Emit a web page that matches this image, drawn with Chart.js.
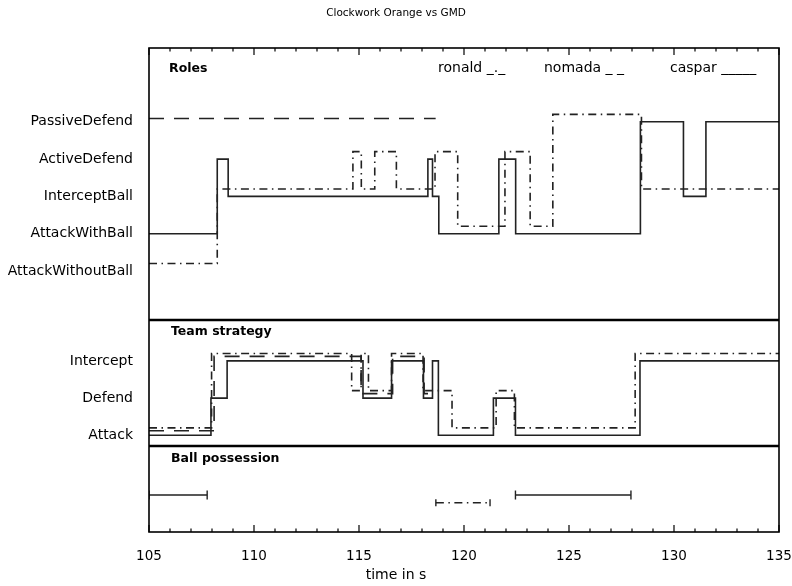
<!DOCTYPE html>
<html>
<head>
<meta charset="utf-8">
<script src="https://cdn.jsdelivr.net/npm/chart.js@4.4.1/dist/chart.umd.min.js"></script>
<style>
  html, body { margin: 0; padding: 0; background: #fff; }
</style>
</head>
<body>
<canvas id="chart" width="792" height="586"></canvas>
<script>
// categories
const roleNames = ['AttackWithoutBall', 'AttackWithBall', 'InterceptBall', 'ActiveDefend', 'PassiveDefend'];
const strategyNames = ['Attack', 'Defend', 'Intercept'];
const timeTicks = [105, 110, 115, 120, 125, 130, 135];
const panelTitles = ['Roles', 'Team strategy', 'Ball possession'];
const legendLabels = ['ronald _._', 'nomada _ _', 'caspar _____'];

// roles (time where the state starts, last entry = end of record)
const casparRoleTimes = [105, 108.25, 108.77, 118.28, 118.5, 118.8, 121.66, 122.46, 128.4, 130.45, 131.52, 135];
const casparRoles = ['AttackWithBall', 'ActiveDefend', 'InterceptBall', 'ActiveDefend', 'InterceptBall', 'AttackWithBall',
  'ActiveDefend', 'AttackWithBall', 'PassiveDefend', 'InterceptBall', 'PassiveDefend', 'PassiveDefend'];
const ronaldRoleTimes = [105, 108.25, 114.71, 115.11, 115.75, 116.78, 118.62, 119.7, 121.95, 123.15, 124.23, 128.45, 135];
const ronaldRoles = ['AttackWithoutBall', 'InterceptBall', 'ActiveDefend', 'InterceptBall', 'ActiveDefend', 'InterceptBall',
  'ActiveDefend', 'AttackWithBall', 'ActiveDefend', 'AttackWithBall', 'PassiveDefend', 'InterceptBall', 'InterceptBall'];
const nomadaRoleTimes = [105, 118.65];
const nomadaRoles = ['PassiveDefend', 'PassiveDefend'];

// team strategy
const casparStrategyTimes = [105, 107.95, 108.72, 115.19, 116.55, 118.07, 118.5, 118.78, 121.4, 122.45, 128.38, 135];
const casparStrategy = ['Attack', 'Defend', 'Intercept', 'Defend', 'Intercept', 'Defend', 'Intercept', 'Attack',
  'Defend', 'Attack', 'Intercept', 'Intercept'];
const ronaldStrategyTimes = [105, 107.98, 114.65, 115.1, 115.45, 116.55, 118.05, 119.43, 121.53, 122.4, 128.15, 135];
const ronaldStrategy = ['Attack', 'Intercept', 'Defend', 'Intercept', 'Defend', 'Intercept', 'Defend', 'Attack',
  'Defend', 'Attack', 'Intercept', 'Intercept'];
const nomadaStrategyTimes = [105, 108.1, 115.1, 116.6, 118.1, 118.65];
const nomadaStrategy = ['Attack', 'Intercept', 'Defend', 'Intercept', 'Defend', 'Defend'];

// ball possession intervals [start, end]
const casparBall = [[105, 107.77], [122.45, 127.95]];
const ronaldBall = [[118.66, 121.24]];

// small vertical shift per player so overlapping steps stay visible
const roleShift = { ronald: 0.2, nomada: 0.09, caspar: 0 };
const strategyShift = { ronald: 0.2, nomada: 0.12, caspar: 0 };
const ballLevel = { ronald: 0.34, caspar: 0.43 };
const dashes = { ronald: [8, 4.5, 1.5, 4.5], nomada: [15, 10], caspar: [] };

const FONT = 'DejaVu Sans';
Chart.defaults.font.family = FONT;
Chart.defaults.color = '#000';

function steps(times, states, names, shift) {
  return times.map((t, i) => ({ x: t, y: names.indexOf(states[i]) + shift }));
}

function intervals(list, level) {
  const pts = [];
  list.forEach((iv, i) => {
    if (i > 0) pts.push({ x: (list[i - 1][1] + iv[0]) / 2, y: null });
    pts.push({ x: iv[0], y: level }, { x: iv[1], y: level });
  });
  return pts;
}

function stepSet(player, data, axis) {
  return {
    label: player,
    data: data,
    yAxisID: axis,
    stepped: 'before',
    borderColor: '#222',
    borderWidth: 1.6,
    borderDash: dashes[player],
    pointRadius: 0,
    fill: false
  };
}

function ballSet(player, data, cap) {
  return {
    label: player + ' ball',
    data: data,
    yAxisID: 'ball',
    borderColor: '#222',
    borderWidth: 1.4,
    borderDash: dashes[player],
    pointStyle: 'line',
    rotation: 90,
    pointRadius: cap,
    pointBorderWidth: 1.4,
    pointBorderColor: '#222',
    spanGaps: false
  };
}

const datasets = [
  stepSet('nomada', steps(nomadaRoleTimes, nomadaRoles, roleNames, roleShift.nomada), 'roles'),
  stepSet('ronald', steps(ronaldRoleTimes, ronaldRoles, roleNames, roleShift.ronald), 'roles'),
  stepSet('caspar', steps(casparRoleTimes, casparRoles, roleNames, roleShift.caspar), 'roles'),
  stepSet('nomada', steps(nomadaStrategyTimes, nomadaStrategy, strategyNames, strategyShift.nomada), 'team'),
  stepSet('ronald', steps(ronaldStrategyTimes, ronaldStrategy, strategyNames, strategyShift.ronald), 'team'),
  stepSet('caspar', steps(casparStrategyTimes, casparStrategy, strategyNames, strategyShift.caspar), 'team'),
  ballSet('ronald', intervals(ronaldBall, ballLevel.ronald), 3.5),
  ballSet('caspar', intervals(casparBall, ballLevel.caspar), 4.5)
];

const SUB_H = 18.8;
const PLOT_BOTTOM = 532;

function fixedWidth(scale) { scale.width = 149; }

// frame, panel dividers, inward ticks and panel texts
const framePlugin = {
  id: 'frame',
  afterDraw(chart) {
    const { ctx, chartArea: a, scales } = chart;
    const x = scales.x;
    const line = (x1, y1, x2, y2) => { ctx.beginPath(); ctx.moveTo(x1, y1); ctx.lineTo(x2, y2); ctx.stroke(); };
    ctx.save();
    ctx.strokeStyle = '#000';
    ctx.lineWidth = 1.6;
    ctx.strokeRect(a.left, a.top, a.right - a.left, a.bottom - a.top);
    ctx.lineWidth = 2.4;
    line(a.left, scales.team.top, a.right, scales.team.top);
    line(a.left, scales.ball.top, a.right, scales.ball.top);
    ctx.lineWidth = 1.2;
    for (let t = x.min; t <= x.max; t++) {
      const px = x.getPixelForValue(t);
      const len = timeTicks.includes(t) ? 7 : 3.5;
      line(px, a.top, px, a.top + len);
      line(px, a.bottom, px, a.bottom - len);
    }
    ctx.fillStyle = '#000';
    ctx.textBaseline = 'middle';
    ctx.textAlign = 'left';
    ctx.font = 'bold 12.5px "' + FONT + '"';
    ctx.fillText(panelTitles[0], a.left + 20, scales.roles.top + 21);
    ctx.fillText(panelTitles[1], a.left + 22, scales.team.top + 11.5);
    ctx.fillText(panelTitles[2], a.left + 22, scales.ball.top + 13);
    ctx.font = '14px "' + FONT + '"';
    const legendX = [438, 544, 670];
    legendLabels.forEach((txt, i) => ctx.fillText(txt, legendX[i], scales.roles.top + 20));
    ctx.restore();
  }
};

new Chart(document.getElementById('chart'), {
  type: 'line',
  data: { datasets: datasets },
  plugins: [framePlugin],
  options: {
    responsive: false,
    animation: false,
    layout: { padding: 0 },
    plugins: {
      legend: { display: false },
      tooltip: { enabled: false },
      title: {
        display: true,
        text: 'Clockwork Orange vs GMD',
        font: { size: 10.5, weight: 'normal' },
        padding: { top: 7, bottom: 28.4 }
      },
      subtitle: {
        display: true,
        position: 'bottom',
        text: 'time in s',
        font: { size: 14 },
        padding: { top: 0, bottom: 2 }
      }
    },
    scales: {
      x: {
        type: 'linear',
        min: 105,
        max: 135,
        afterBuildTicks: (s) => { s.ticks = timeTicks.map(v => ({ value: v })); },
        afterFit: (s) => {
          s.height = 586 - PLOT_BOTTOM - SUB_H;
          s.paddingLeft = 0;
          s.paddingRight = 13;
        },
        grid: { display: false, drawTicks: false },
        border: { display: false },
        ticks: { font: { size: 13.5 }, padding: 16, maxRotation: 0 }
      },
      roles: {
        type: 'linear',
        position: 'left',
        stack: 'panels',
        stackWeight: 272,
        weight: 3,
        min: -1.314,
        max: 5.979,
        afterBuildTicks: (s) => { s.ticks = roleNames.map((_, i) => ({ value: i })); },
        afterFit: fixedWidth,
        grid: { display: false, drawTicks: false },
        border: { display: false },
        ticks: { font: { size: 14 }, padding: 16, autoSkip: false, callback: (v) => roleNames[v] }
      },
      team: {
        type: 'linear',
        position: 'left',
        stack: 'panels',
        stackWeight: 126,
        weight: 2,
        min: -0.288,
        max: 3.099,
        afterBuildTicks: (s) => { s.ticks = strategyNames.map((_, i) => ({ value: i })); },
        afterFit: fixedWidth,
        grid: { display: false, drawTicks: false },
        border: { display: false },
        ticks: { font: { size: 14 }, padding: 16, autoSkip: false, callback: (v) => strategyNames[v] }
      },
      ball: {
        type: 'linear',
        position: 'left',
        stack: 'panels',
        stackWeight: 86,
        weight: 1,
        min: 0,
        max: 1,
        afterFit: fixedWidth,
        grid: { display: false, drawTicks: false },
        border: { display: false },
        ticks: { display: false }
      }
    }
  }
});
</script>
</body>
</html>
